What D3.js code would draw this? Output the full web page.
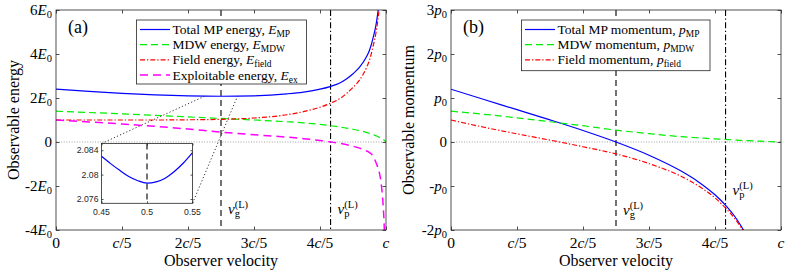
<!DOCTYPE html>
<html>
<head>
<meta charset="utf-8">
<script src="https://d3js.org/d3.v7.min.js"></script>
<style>
    body { margin: 0; background: #fff; }
    text { font-family: "Liberation Serif", "Times New Roman", serif; fill: #000; }
    .inset text { font-family: "Liberation Sans", Arial, sans-serif; fill: #262626; }
    .frame { fill: none; stroke: #262626; stroke-width: 0.8; }
    .tick line { stroke: #262626; stroke-width: 0.8; }
    .zero { stroke: #8a8a8a; stroke-width: 0.8; stroke-dasharray: 1, 1.6; }
    .vg { stroke: #000; stroke-width: 1.1; stroke-dasharray: 6, 4; }
    .vp { stroke: #000; stroke-width: 1.1; stroke-dasharray: 6, 2.5, 1.3, 2.5; }
    .curve { fill: none; }
    .legend rect { fill: #fff; stroke: #262626; stroke-width: 0.8; }
    .connector { stroke: #333; stroke-width: 1; stroke-dasharray: 1.2, 2.2; }
</style>
</head>
<body>
<svg id="chart" width="788" height="273"></svg>
<script>
// ---- data ----
var velE = [0, 0.1, 0.2, 0.3, 0.4, 0.5, 0.6, 0.7, 0.75, 0.8, 0.833, 0.86, 0.88, 0.9, 0.92, 0.94, 0.95, 0.96, 0.97, 0.975, 0.98, 0.985, 0.99, 0.994, 0.997, 1.0];
var energyMP    = [2.40, 2.30, 2.21, 2.14, 2.095, 2.079, 2.10, 2.19, 2.27, 2.40, 2.53, 2.68, 2.86, 3.10, 3.40, 3.85, 4.17, 4.68, 5.35, 5.85, 6.5, 7.4, null, null, null, null];
var energyMDW   = [1.40, 1.34, 1.28, 1.21, 1.14, 1.07, 1.00, 0.92, 0.87, 0.80, 0.74, 0.68, 0.63, 0.58, 0.52, 0.44, 0.39, 0.34, 0.28, 0.25, 0.21, 0.17, 0.13, 0.09, 0.05, 0.0];
var energyField = [1.00, 1.00, 1.00, 1.00, 1.01, 1.03, 1.09, 1.24, 1.38, 1.58, 1.77, 1.97, 2.20, 2.48, 2.82, 3.35, 3.72, 4.30, 5.00, 5.50, 6.15, 7.1, null, null, null, null];
var energyEx    = [1.00, 0.91, 0.82, 0.71, 0.59, 0.45, 0.33, 0.22, 0.15, 0.07, 0.0, -0.06, -0.12, -0.19, -0.28, -0.40, -0.48, -0.62, -0.95, -1.15, -1.40, -1.85, -2.6, -3.6, -5.0, null];

var velP = [0, 0.1, 0.2, 0.3, 0.4, 0.5, 0.6, 0.7, 0.75, 0.8, 0.833, 0.86, 0.88, 0.9, 0.95, 1.0];
var momentumMP    = [1.20, 0.965, 0.735, 0.503, 0.262, 0.0, -0.30, -0.672, -0.907, -1.20, -1.447, -1.693, -1.92, -2.20, null, null];
var momentumMDW   = [0.70, 0.63, 0.55, 0.46, 0.37, 0.27, 0.19, 0.12, 0.095, 0.07, 0.06, 0.045, 0.035, 0.03, 0.015, 0.0];
var momentumField = [0.50, 0.335, 0.185, 0.043, -0.108, -0.27, -0.49, -0.79, -1.0, -1.27, -1.51, -1.74, -1.955, -2.23, null, null];

var insetVel    = [0.45, 0.46, 0.47, 0.48, 0.49, 0.50, 0.51, 0.52, 0.53, 0.54, 0.55];
var insetEnergy = [2.0830, 2.0818, 2.0807, 2.0797, 2.0790, 2.0786, 2.0788, 2.0794, 2.0805, 2.0819, 2.0836];

var groupVel = 0.5;
var phaseVel = 0.832;

var xTicks = [0, 0.2, 0.4, 0.6, 0.8, 1];
var xTickLabels = ["0", "$c$/5", "2$c$/5", "3$c$/5", "4$c$/5", "$c$"];
var energyTicks = [6, 4, 2, 0, -2, -4];
var energyTickLabels = ["6$E$_{0}", "4$E$_{0}", "2$E$_{0}", "0", "-2$E$_{0}", "-4$E$_{0}"];
var momentumTicks = [3, 2, 1, 0, -1, -2];
var momentumTickLabels = ["3$p$_{0}", "2$p$_{0}", "$p$_{0}", "0", "-$p$_{0}", "-2$p$_{0}"];
var insetXTicks = [0.45, 0.5, 0.55];
var insetYTicks = [2.076, 2.08, 2.084];

var energyNames = ["Total MP energy, $E$_{MP}", "MDW energy, $E$_{MDW}", "Field energy, $E$_{field}", "Exploitable energy, $E$_{ex}"];
var momentumNames = ["Total MP momentum, $p$_{MP}", "MDW momentum, $p$_{MDW}", "Field momentum, $p$_{field}"];

var svg = d3.select("#chart");
var plotTop = 10, plotBottom = 230;

// writes "$x$" as italic, "_{..}" as subscript, "^{..}" as superscript
function mathText(sel, str, fs) {
    var tokens = str.match(/\$[^$]+\$|_\{[^}]*\}|\^\{[^}]*\}|[^$_^]+/g);
    var cur = 0, lastSub = null;
    tokens.forEach(function (tok) {
        var txt = tok, shift = 0, size = fs, italic = false;
        if (tok[0] === "$") { txt = tok.slice(1, -1); italic = true; }
        else if (tok[0] === "_") { txt = tok.slice(2, -1); shift = fs * 0.22; size = fs * 0.7; }
        else if (tok[0] === "^") { txt = tok.slice(2, -1); shift = -fs * 0.4; size = fs * 0.7; }
        var t = sel.append("tspan").attr("dy", shift - cur).attr("font-size", size).text(txt);
        if (italic) t.attr("font-style", "italic");
        if (tok[0] === "^" && lastSub) t.attr("dx", -lastSub.node().getComputedTextLength());
        lastSub = tok[0] === "_" ? t : null;
        cur = shift;
    });
}

function drawPanel(p) {
    var g = svg.append("g");
    var x = d3.scaleLinear().domain([0, 1]).range(p.xRange);
    var y = d3.scaleLinear().domain(p.yDomain).range([plotBottom, plotTop]);

    g.append("clipPath").attr("id", p.id + "clip")
        .append("rect").attr("x", x(0)).attr("y", plotTop)
        .attr("width", x(1) - x(0)).attr("height", plotBottom - plotTop);

    g.append("line").attr("class", "zero")
        .attr("x1", x(0)).attr("x2", x(1)).attr("y1", y(0)).attr("y2", y(0));

    g.append("line").attr("class", "vg")
        .attr("x1", x(groupVel)).attr("x2", x(groupVel)).attr("y1", plotTop).attr("y2", plotBottom);
    g.append("line").attr("class", "vp")
        .attr("x1", x(phaseVel)).attr("x2", x(phaseVel)).attr("y1", plotTop).attr("y2", plotBottom);

    p.series.forEach(function (s) {
        var line = d3.line()
            .defined(function (d) { return d[1] != null; })
            .x(function (d) { return x(d[0]); })
            .y(function (d) { return y(d[1]); })
            .curve(d3.curveMonotoneX);
        g.append("path").attr("class", "curve")
            .datum(d3.zip(p.vel, s.values))
            .attr("clip-path", "url(#" + p.id + "clip)")
            .attr("stroke", s.color).attr("stroke-width", s.width)
            .attr("stroke-dasharray", s.dash)
            .attr("d", line);
    });

    // ticks on all four sides, pointing in
    g.append("g").attr("transform", "translate(0," + plotBottom + ")")
        .call(d3.axisBottom(x).tickValues(xTicks).tickSize(-3.5).tickFormat(""));
    g.append("g").attr("transform", "translate(0," + plotTop + ")")
        .call(d3.axisTop(x).tickValues(xTicks).tickSize(-3.5).tickFormat(""));
    g.append("g").attr("transform", "translate(" + x(0) + ",0)")
        .call(d3.axisLeft(y).tickValues(p.yTicks).tickSize(-3.5).tickFormat(""));
    g.append("g").attr("transform", "translate(" + x(1) + ",0)")
        .call(d3.axisRight(y).tickValues(p.yTicks).tickSize(-3.5).tickFormat(""));
    g.selectAll(".domain").remove();

    g.append("rect").attr("class", "frame")
        .attr("x", x(0)).attr("y", plotTop).attr("width", x(1) - x(0)).attr("height", plotBottom - plotTop);

    xTicks.forEach(function (v, i) {
        var t = g.append("text").attr("x", x(v)).attr("y", 248).attr("text-anchor", "middle").attr("font-size", 15.5);
        mathText(t, xTickLabels[i], 15.5);
    });
    p.yTicks.forEach(function (v, i) {
        var t = g.append("text").attr("x", x(0) - 4).attr("y", y(v) + 4.5).attr("text-anchor", "end").attr("font-size", 15);
        mathText(t, p.yTickLabels[i], 15);
    });

    g.append("text").attr("x", (x(0) + x(1)) / 2).attr("y", 266)
        .attr("text-anchor", "middle").attr("font-size", 16).text("Observer velocity");
    g.append("text").attr("transform", "translate(" + (x(0) - 37) + "," + ((plotTop + plotBottom) / 2) + ") rotate(-90)")
        .attr("text-anchor", "middle").attr("font-size", 16).text(p.yLabel);

    g.append("text").attr("x", x(0) + 12).attr("y", 33).attr("font-size", 18).text(p.tag);

    var lg = g.append("text").attr("x", x(groupVel) + 7).attr("y", p.vgLabelY).attr("font-size", 15);
    mathText(lg, "$v$_{g}^{(L)}", 15);
    var lp = g.append("text").attr("x", x(phaseVel) + 7).attr("y", p.vpLabelY).attr("font-size", 15);
    mathText(lp, "$v$_{p}^{(L)}", 15);

    // legend
    var leg = g.append("g").attr("class", "legend");
    leg.append("rect").attr("x", p.legend[0]).attr("y", 20).attr("width", p.legend[1]).attr("height", p.legend[2]);
    p.series.forEach(function (s, i) {
        var ly = 29.5 + i * 15.2;
        leg.append("line").attr("x1", p.legend[0] + 3.5).attr("x2", p.legend[0] + 33.5)
            .attr("y1", ly).attr("y2", ly)
            .attr("stroke", s.color).attr("stroke-width", s.width).attr("stroke-dasharray", s.dash);
        var t = leg.append("text").attr("x", p.legend[0] + 36).attr("y", ly + 4.5).attr("font-size", 13.5);
        mathText(t, s.name, 13.5);
    });
    return { x: x, y: y, g: g };
}

var styles = [
    { color: "#0000ff", width: 1.2, dash: null },
    { color: "#00ee00", width: 1.2, dash: "7,4" },
    { color: "#ff0000", width: 1.2, dash: "5,2,1.3,2" },
    { color: "#ff00ff", width: 1.5, dash: "8,5" }
];

var energyValues = [energyMP, energyMDW, energyField, energyEx];
var momentumValues = [momentumMP, momentumMDW, momentumField];

var left = drawPanel({
    id: "a", tag: "(a)", xRange: [56, 386], yDomain: [-4, 6],
    yTicks: energyTicks, yTickLabels: energyTickLabels, yLabel: "Observable energy",
    vel: velE, vgLabelY: 214, vpLabelY: 214, legend: [136.5, 170, 64],
    series: energyValues.map(function (v, i) {
        return { values: v, name: energyNames[i], color: styles[i].color, width: styles[i].width, dash: styles[i].dash };
    })
});

drawPanel({
    id: "b", tag: "(b)", xRange: [451, 781], yDomain: [-2, 3],
    yTicks: momentumTicks, yTickLabels: momentumTickLabels, yLabel: "Observable momentum",
    vel: velP, vgLabelY: 215, vpLabelY: 195, legend: [521.5, 188.5, 50.7],
    series: momentumValues.map(function (v, i) {
        return { values: v, name: momentumNames[i], color: styles[i].color, width: styles[i].width, dash: styles[i].dash };
    })
});

// ---- inset in panel (a) ----
var xi = d3.scaleLinear().domain([0.45, 0.55]).range([101.5, 192.5]);
var yi = d3.scaleLinear().domain([2.0753, 2.0851]).range([203.3, 143.5]);
var ins = svg.append("g").attr("class", "inset");

ins.append("line").attr("class", "connector")
    .attr("x1", xi(0.45)).attr("y1", yi(2.0851))
    .attr("x2", left.x(0.45)).attr("y2", left.y(2.08));
ins.append("line").attr("class", "connector")
    .attr("x1", xi(0.55)).attr("y1", yi(2.0753))
    .attr("x2", left.x(0.55)).attr("y2", left.y(2.08));

ins.append("rect").attr("x", xi(0.45)).attr("y", yi(2.0851))
    .attr("width", xi(0.55) - xi(0.45)).attr("height", yi(2.0753) - yi(2.0851)).attr("fill", "#fff");

ins.append("line").attr("class", "vg").attr("stroke-dasharray", "5,3")
    .attr("x1", xi(0.5)).attr("x2", xi(0.5)).attr("y1", yi(2.0851)).attr("y2", yi(2.0753));

ins.append("path").attr("fill", "none").attr("stroke", "#0000ff").attr("stroke-width", 1.2)
    .datum(d3.zip(insetVel, insetEnergy))
    .attr("d", d3.line().x(function (d) { return xi(d[0]); }).y(function (d) { return yi(d[1]); }).curve(d3.curveMonotoneX));

ins.append("g").attr("transform", "translate(0," + yi(2.0753) + ")")
    .call(d3.axisBottom(xi).tickValues(insetXTicks).tickSize(-2).tickFormat(""));
ins.append("g").attr("transform", "translate(0," + yi(2.0851) + ")")
    .call(d3.axisTop(xi).tickValues(insetXTicks).tickSize(-2).tickFormat(""));
ins.append("g").attr("transform", "translate(" + xi(0.45) + ",0)")
    .call(d3.axisLeft(yi).tickValues(insetYTicks).tickSize(-2).tickFormat(""));
ins.append("g").attr("transform", "translate(" + xi(0.55) + ",0)")
    .call(d3.axisRight(yi).tickValues(insetYTicks).tickSize(-2).tickFormat(""));
ins.selectAll(".domain").remove();
ins.selectAll(".tick line").attr("stroke-width", 0.6);

ins.append("rect").attr("class", "frame").attr("stroke-width", 0.6).attr("stroke", "#8c8c8c")
    .attr("x", xi(0.45)).attr("y", yi(2.0851))
    .attr("width", xi(0.55) - xi(0.45)).attr("height", yi(2.0753) - yi(2.0851));

insetXTicks.forEach(function (v) {
    ins.append("text").attr("x", xi(v)).attr("y", 214.5).attr("text-anchor", "middle")
        .attr("font-size", 8.7).text(v === 0.5 ? "0.5" : d3.format(".2f")(v));
});
insetYTicks.forEach(function (v) {
    ins.append("text").attr("x", xi(0.45) - 3).attr("y", yi(v) + 3).attr("text-anchor", "end")
        .attr("font-size", 8.7).text(v === 2.08 ? "2.08" : d3.format(".3f")(v));
});
</script>
</body>
</html>
